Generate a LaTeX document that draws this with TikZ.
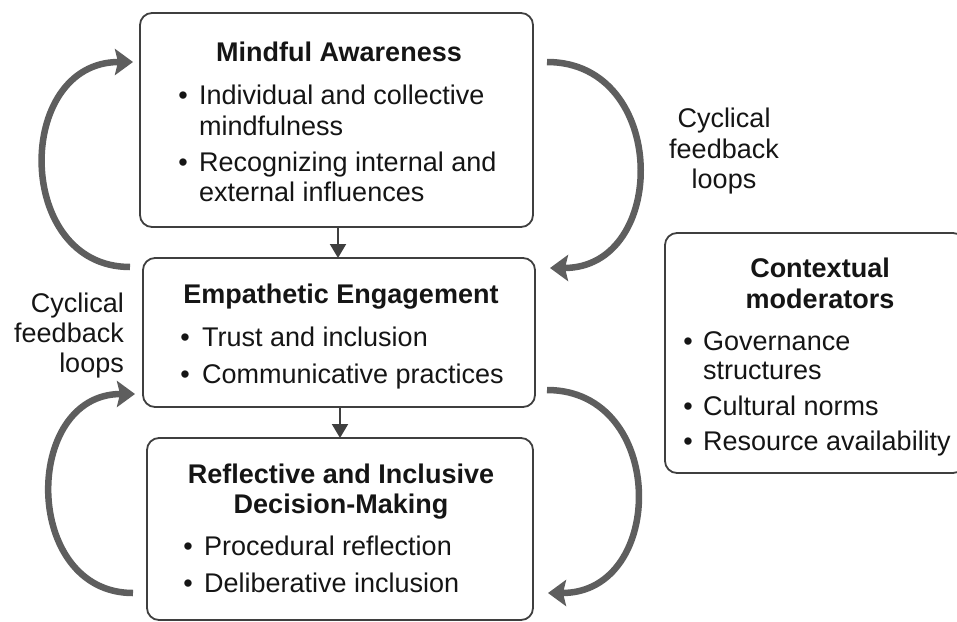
\documentclass[tikz,border=0pt]{standalone}
\usepackage{fontspec}
\setmainfont{Liberation Sans}
\usetikzlibrary{arrows.meta}
\definecolor{boxline}{HTML}{3F3F3F}
\definecolor{loopgray}{HTML}{5E5E5E}
\definecolor{txt}{HTML}{151515}
\begin{document}
\begin{tikzpicture}[x=1pt,y=-1pt,
  box/.style={draw=boxline, line width=1.8pt, rounded corners=12pt, fill=white, inner sep=0pt, outer sep=0pt, anchor=north west},
  ttl/.style={font=\fontsize{27}{31}\selectfont\bfseries, text=txt, anchor=base, inner sep=0pt},
  itm/.style={font=\fontsize{27}{31}\selectfont, text=txt, anchor=base west, inner sep=0pt},
  bul/.style={font=\fontsize{27}{31}\selectfont, text=txt, anchor=base, inner sep=0pt},
  lblr/.style={font=\fontsize{27}{31}\selectfont, text=txt, anchor=base east, inner sep=0pt},
  lblc/.style={font=\fontsize{27}{31}\selectfont, text=txt, anchor=base, inner sep=0pt},
  flow/.style={draw=boxline, line width=2pt, -{Triangle[length=14pt,width=16pt]}},
  loop/.style={draw=loopgray, line width=6.5pt, -{Stealth[length=18pt,width=26pt,inset=3pt]}}]
\useasboundingbox (0,0) rectangle (957,621);

% boxes
\node[box, minimum width=393pt, minimum height=214pt] (ma) at (140,13) {};
\node[box, minimum width=392pt, minimum height=149pt] (ee) at (143,258) {};
\node[box, minimum width=386pt, minimum height=182pt] (rd) at (147,438) {};
\node[box, minimum width=300pt, minimum height=240pt] (cm) at (665,233) {};

% Mindful Awareness
\node[ttl] (maT) at (339,61) {Mindful Awareness};
\node[bul] (maB1) at (183,104) {•};
\node[itm] (maI1a) at (199,104) {Individual and collective};
\node[itm] (maI1b) at (199,135) {mindfulness};
\node[bul] (maB2) at (183,171) {•};
\node[itm] (maI2a) at (199,171) {Recognizing internal and};
\node[itm] (maI2b) at (199,201) {external influences};

% Empathetic Engagement
\node[ttl] (eeT) at (341,303) {Empathetic Engagement};
\node[bul] (eeB1) at (185,346) {•};
\node[itm] (eeI1) at (202,346) {Trust and inclusion};
\node[bul] (eeB2) at (185,383) {•};
\node[itm] (eeI2) at (202,383) {Communicative practices};

% Reflective and Inclusive Decision-Making
\node[ttl] (rdT1) at (341,483) {Reflective and Inclusive};
\node[ttl] (rdT2) at (341,513) {Decision-Making};
\node[bul] (rdB1) at (188,555) {•};
\node[itm] (rdI1) at (204,555) {Procedural reflection};
\node[bul] (rdB2) at (188,592) {•};
\node[itm] (rdI2) at (204,592) {Deliberative inclusion};

% Contextual moderators
\node[ttl] (cmT1) at (820,277) {Contextual};
\node[ttl] (cmT2) at (820,308) {moderators};
\node[bul] (cmB1) at (688,350) {•};
\node[itm] (cmI1a) at (703,350) {Governance};
\node[itm] (cmI1b) at (703,379) {structures};
\node[bul] (cmB2) at (688,415) {•};
\node[itm] (cmI2) at (703,415) {Cultural norms};
\node[bul] (cmB3) at (688,450) {•};
\node[itm] (cmI3) at (703,450) {Resource availability};

% loop labels
\node[lblr] (lL1) at (124,312) {Cyclical};
\node[lblr] (lL2) at (124,342) {feedback};
\node[lblr] (lL3) at (124,372) {loops};
\node[lblc] (rL1) at (724,127) {Cyclical};
\node[lblc] (rL2) at (724,158) {feedback};
\node[lblc] (rL3) at (724,188) {loops};

% flow arrows
\draw[flow] (ma.south -| 338,0) -- (ee.north -| 338,0);
\draw[flow] (ee.south -| 340,0) -- (rd.north -| 340,0);

% loop arrows
\coordinate (l1s) at (130,267); \coordinate (l1e) at (133,62);
\coordinate (r1s) at (547,62);  \coordinate (r1e) at (550,268);
\coordinate (l2s) at (133,593); \coordinate (l2e) at (135,394);
\coordinate (r2s) at (547,390); \coordinate (r2e) at (548,593);
\draw[loop] (l1s) .. controls (14,267) and (14,62) .. (l1e);
\draw[loop] (r1s) .. controls (669,62) and (669,268) .. (r1e);
\draw[loop] (l2s) .. controls (22,593) and (22,394) .. (l2e);
\draw[loop] (r2s) .. controls (667,390) and (667,593) .. (r2e);
\end{tikzpicture}
\end{document}
